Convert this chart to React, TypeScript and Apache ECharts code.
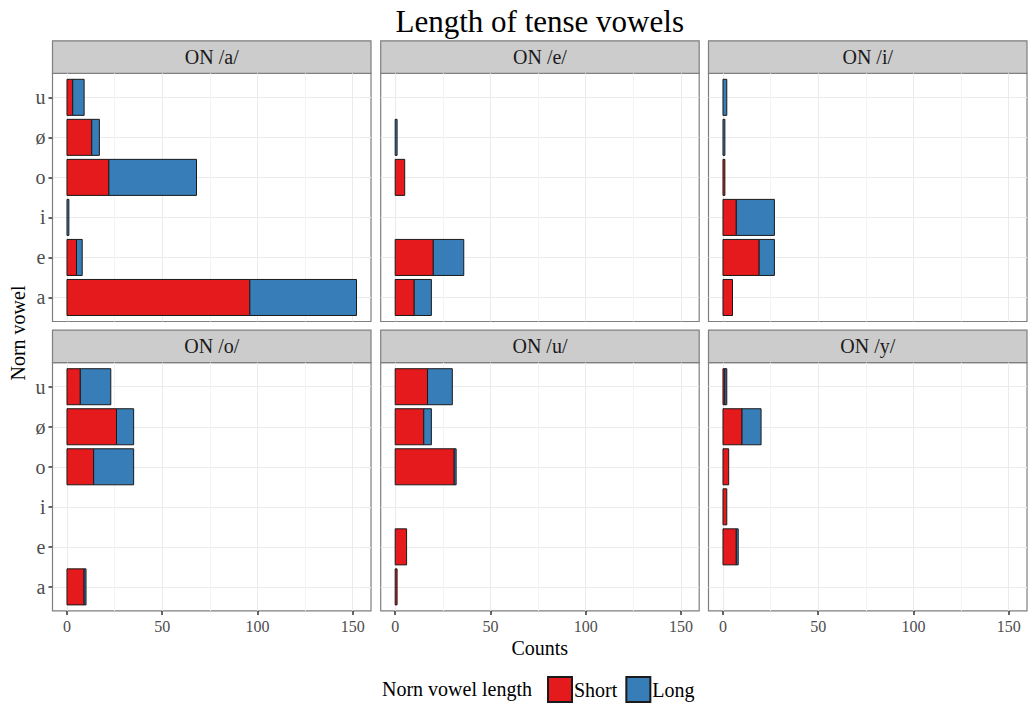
import React, { useEffect, useRef } from 'react';
import * as echarts from 'echarts';

// Norn vowels on the category axis (bottom to top)
const vowels = ['a', 'e', 'i', 'o', 'ø', 'u'];
const panelTitles = ['ON /a/', 'ON /e/', 'ON /i/', 'ON /o/', 'ON /u/', 'ON /y/'];
const lengthNames = ['Short', 'Long'];
const xTicks = [0, 50, 100, 150];
const xMinorTicks = [25, 75, 125];

// counts per panel, in order of vowels (a, e, i, o, ø, u)
const shortON_a = [96, 5, 0, 22, 13, 3];
const longON_a = [56, 3, 1, 46, 4, 6];
const shortON_e = [10, 20, 0, 5, 0, 0];
const longON_e = [9, 16, 0, 0, 1, 0];
const shortON_i = [5, 19, 7, 1, 0, 0];
const longON_i = [0, 8, 20, 0, 1, 2];
const shortON_o = [9, 0, 0, 14, 26, 7];
const longON_o = [1, 0, 0, 21, 9, 16];
const shortON_u = [1, 6, 0, 31, 15, 17];
const longON_u = [0, 0, 0, 1, 4, 13];
const shortON_y = [0, 7, 2, 3, 10, 1];
const longON_y = [0, 1, 0, 0, 10, 1];

const shortCounts = [shortON_a, shortON_e, shortON_i, shortON_o, shortON_u, shortON_y];
const longCounts = [longON_a, longON_e, longON_i, longON_o, longON_u, longON_y];

const FONT = '"Liberation Serif", "DejaVu Serif", serif';
const RED = '#E41A1C';
const BLUE = '#377EB8';

export default function App() {
  const ref = useRef<HTMLDivElement>(null);
  useEffect(() => {
    document.body.style.margin = '0';
    const chart = echarts.init(ref.current!, undefined, { renderer: 'svg' });

    const colLeft = [52.5, 380.7, 708.5];
    const panelW = 318.5;
    const rowTop = [73.3, 362.7];
    const panelH = 248.2;
    const stripH = 32.5;

    const grids: any[] = [];
    const xAxes: any[] = [];
    const yAxes: any[] = [];
    const series: any[] = [];
    const graphics: any[] = [];

    const renderItem = (params: any, api: any) => {
      const s = api.value(0);
      const e = api.value(1);
      const idx = api.value(2);
      const p0 = api.coord([s, idx]);
      const p1 = api.coord([e, idx]);
      const h = api.size([0, 0.9])[1];
      return {
        type: 'rect',
        shape: { x: p0[0], y: p0[1] - h / 2, width: p1[0] - p0[0], height: h },
        style: api.style({ stroke: '#1a1a1a', lineWidth: 1 }),
      };
    };

    for (let i = 0; i < 6; i++) {
      const r = Math.floor(i / 3);
      const c = i % 3;
      const left = colLeft[c];
      const top = rowTop[r];
      grids.push({
        left, top, width: panelW, height: panelH,
        show: true, backgroundColor: '#fff', borderColor: '#7f7f7f', borderWidth: 1.2,
        containLabel: false,
      });
      // main x axis
      xAxes.push({
        type: 'value', gridIndex: i, min: -7.6, max: 159.6, position: 'bottom',
        axisLine: { show: false, onZero: false },
        axisTick: { show: r === 1, customValues: xTicks, length: 4, lineStyle: { color: '#333', width: 1.5 } },
        axisLabel: { show: r === 1, customValues: xTicks, fontFamily: FONT, fontSize: 16, color: '#4d4d4d', margin: 8 },
        splitLine: { show: true, lineStyle: { color: '#EBEBEB', width: 1 } },
      });
      // minor grid x axis
      xAxes.push({
        type: 'value', gridIndex: i, min: -7.6, max: 159.6, position: 'bottom',
        axisLine: { show: false, onZero: false },
        axisTick: { show: false, customValues: xMinorTicks },
        axisLabel: { show: false, customValues: xMinorTicks },
        splitLine: { show: true, lineStyle: { color: '#F4F4F4', width: 1 } },
      });
      yAxes.push({
        type: 'value', gridIndex: i, min: -0.6, max: 5.6, position: 'left',
        axisLine: { show: false, onZero: false },
        axisTick: { show: c === 0, customValues: [0, 1, 2, 3, 4, 5], length: 4, lineStyle: { color: '#333', width: 1.5 } },
        axisLabel: {
          show: c === 0, customValues: [0, 1, 2, 3, 4, 5],
          formatter: (v: number) => vowels[Math.round(v)] ?? '',
          fontFamily: FONT, fontSize: 20, color: '#4d4d4d', margin: 7,
        },
        splitLine: { show: true, lineStyle: { color: '#EBEBEB', width: 1 } },
      });

      const shortData: any[] = [];
      const longData: any[] = [];
      vowels.forEach((_, k) => {
        const sv = shortCounts[i][k];
        const lv = longCounts[i][k];
        if (sv > 0) shortData.push([0, sv, k]);
        if (lv > 0) longData.push([sv, sv + lv, k]);
      });
      series.push({
        type: 'custom', name: lengthNames[0], xAxisIndex: 2 * i, yAxisIndex: i,
        renderItem, data: shortData, encode: { x: [0, 1], y: 2 },
        itemStyle: { color: RED, borderColor: '#1a1a1a', borderWidth: 1 },
        silent: true,
      });
      series.push({
        type: 'custom', name: lengthNames[1], xAxisIndex: 2 * i, yAxisIndex: i,
        renderItem, data: longData, encode: { x: [0, 1], y: 2 },
        itemStyle: { color: BLUE, borderColor: '#1a1a1a', borderWidth: 1 },
        silent: true,
      });

      // strip
      graphics.push({
        type: 'rect',
        shape: { x: left, y: top - stripH, width: panelW, height: stripH },
        style: { fill: '#CCCCCC', stroke: '#7f7f7f', lineWidth: 1.2 },
      });
      graphics.push({
        type: 'text',
        x: left + panelW / 2, y: top - stripH / 2,
        style: { text: panelTitles[i], fontFamily: FONT, fontSize: 20, fill: '#1a1a1a', align: 'center', verticalAlign: 'middle' },
      });
    }

    const centerX = (colLeft[0] + colLeft[2] + panelW) / 2;
    graphics.push({
      type: 'text', x: centerX, y: 21,
      style: { text: 'Length of tense vowels', fontFamily: FONT, fontSize: 31, fill: '#000', align: 'center', verticalAlign: 'middle' },
    });
    graphics.push({
      type: 'text', x: centerX, y: 648,
      style: { text: 'Counts', fontFamily: FONT, fontSize: 20, fill: '#000', align: 'center', verticalAlign: 'middle' },
    });
    graphics.push({
      type: 'text', x: 18, y: 333, rotation: Math.PI / 2,
      style: { text: 'Norn vowel', fontFamily: FONT, fontSize: 20, fill: '#000', align: 'center', verticalAlign: 'middle' },
    });
    graphics.push({
      type: 'text', x: 532, y: 689,
      style: { text: 'Norn vowel length', fontFamily: FONT, fontSize: 20, fill: '#000', align: 'right', verticalAlign: 'middle' },
    });

    chart.setOption({
      animation: false,
      backgroundColor: '#fff',
      grid: grids,
      xAxis: xAxes,
      yAxis: yAxes,
      series,
      legend: {
        data: lengthNames.map((n) => ({ name: n, icon: 'rect' })),
        left: 547, top: 676, itemWidth: 24, itemHeight: 25, itemGap: 8, padding: 0,
        textStyle: { fontFamily: FONT, fontSize: 20, color: '#000', padding: [0, 0, 0, -3] },
        selectedMode: false,
      },
      graphic: graphics,
    });
    return () => chart.dispose();
  }, []);
  return <div ref={ref} style={{ width: 1029, height: 705 }} />;
}
